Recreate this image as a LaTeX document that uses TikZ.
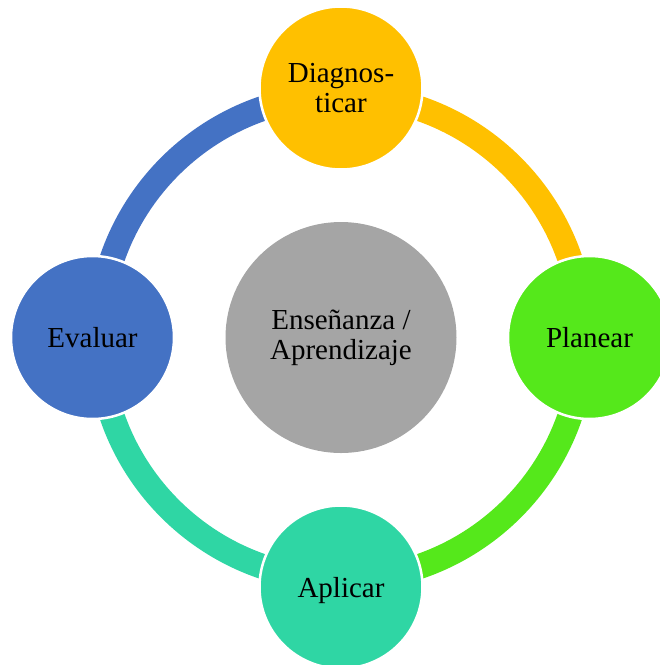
\documentclass[tikz,border=0pt]{standalone}
\usepackage{fontspec}
\setmainfont{Liberation Serif}
\definecolor{cycYellow}{HTML}{FFC000}
\definecolor{cycGreen}{HTML}{55E81B}
\definecolor{cycTeal}{HTML}{2FD6A4}
\definecolor{cycBlue}{HTML}{4472C4}
\definecolor{hubGray}{HTML}{A5A5A5}
\begin{document}
\begin{tikzpicture}[x=1pt,y=1pt,
  stage/.style={circle, draw=white, line width=2.5pt, minimum size=163pt,
    inner sep=0pt, align=center, font=\fontsize{29}{30}\selectfont},
  oneline/.style={text height=20pt, text depth=0pt},
  hub/.style={circle, fill=hubGray, minimum size=231pt, inner sep=0pt,
    align=center, font=\fontsize{29}{30}\selectfont},
  band/.style={line width=25pt}]
\useasboundingbox (0,0) rectangle (660,-665);
\coordinate (C) at (341,-337.5);
% ring segments, each in the colour of the stage it leaves
\draw[band, draw=cycYellow] (C) ++(90:242pt) arc[start angle=90, end angle=0, radius=242pt];
\draw[band, draw=cycGreen] (C) ++(0:242pt) arc[start angle=0, end angle=-90, radius=242pt];
\draw[band, draw=cycTeal] (C) ++(-90:242pt) arc[start angle=-90, end angle=-180, radius=242pt];
\draw[band, draw=cycBlue] (C) ++(180:242pt) arc[start angle=180, end angle=90, radius=242pt];
% stages
\node[stage, fill=cycYellow] (diag) at (341,-88) {Diagnos-\\ticar};
\node[stage, oneline, fill=cycGreen] (plan) at (589.5,-337.5) {Planear};
\node[stage, oneline, fill=cycTeal] (apl) at (341,-587) {Aplicar};
\node[stage, oneline, fill=cycBlue] (eval) at (92.5,-337.5) {Evaluar};
% centre
\node[hub] (hub) at (C) {Enseñanza /\\Aprendizaje};
\end{tikzpicture}
\end{document}
